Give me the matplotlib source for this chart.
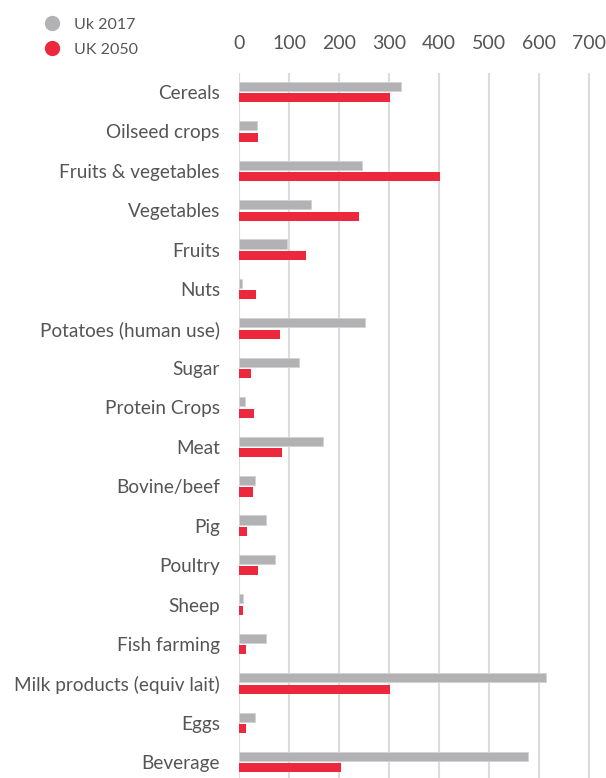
import numpy as np
import matplotlib.pyplot as plt
from matplotlib.lines import Line2D

plt.rcParams['font.family'] = ['Lato', 'DejaVu Sans']

categories = ['Cereals', 'Oilseed crops', 'Fruits & vegetables', 'Vegetables', 'Fruits',
              'Nuts', 'Potatoes (human use)', 'Sugar', 'Protein Crops', 'Meat',
              'Bovine/beef', 'Pig', 'Poultry', 'Sheep', 'Fish farming',
              'Milk products (equiv lait)', 'Eggs', 'Beverage']
uk2017 = [325, 36, 245, 144, 95, 5, 252, 119, 12, 168, 32, 53, 71, 8, 53, 614, 32, 579]
uk2050 = [302, 37, 402, 240, 133, 33, 81, 23, 29, 85, 27, 15, 37, 8, 13, 302, 13, 204]
ticks = [0, 100, 200, 300, 400, 500, 600, 700]

grey = '#b2b2b5'
red = '#ee283c'
txt = '#555555'

fig = plt.figure(figsize=(6.06, 7.78), dpi=100)
ax = fig.add_axes([0.395, 0.0, 0.5844, 0.906])

y = np.arange(len(categories))
h = 0.23
off = 0.145
ax.barh(y - off, uk2017, height=h, color=grey, edgecolor='#d2d2d4', linewidth=0.6, zorder=3)
ax.barh(y + off, uk2050, height=h, color=red, linewidth=0, zorder=3)

ax.set_xlim(0, 710)
ax.set_ylim(17.4, -0.48)
ax.set_xticks(ticks)
ax.set_yticks(y)
ax.set_yticklabels(categories)
ax.xaxis.tick_top()
ax.tick_params(axis='x', length=0, pad=15, labelsize=14, labelcolor=txt)
ax.tick_params(axis='y', length=0, pad=14, labelsize=13.7, labelcolor=txt)
ax.grid(axis='x', color='#dcdcdc', linewidth=1.5, zorder=0)
for s in ax.spines.values():
    s.set_visible(False)

handles = [Line2D([], [], marker='o', linestyle='none', markersize=10, color=grey),
           Line2D([], [], marker='o', linestyle='none', markersize=10, color=red)]
leg = fig.legend(handles, ['Uk 2017', 'UK 2050'], loc='upper left',
                 bbox_to_anchor=(0.035, 0.996), frameon=False, fontsize=11.5,
                 handletextpad=0.4, labelspacing=0.7, labelcolor=txt)

fig.savefig('out.png', dpi=100)
